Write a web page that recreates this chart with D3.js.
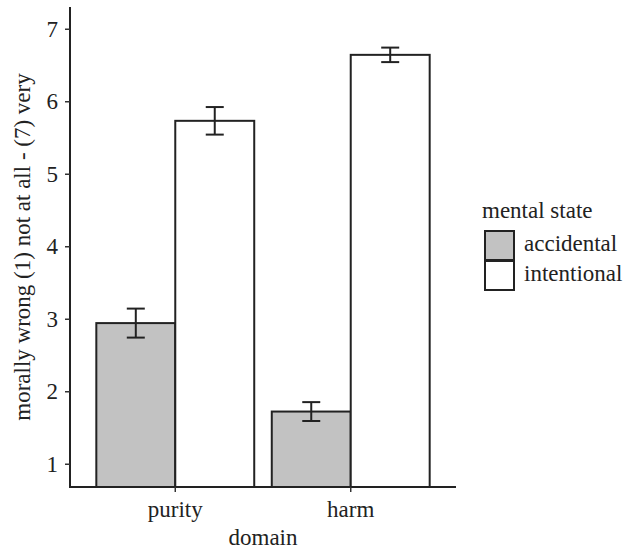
<!DOCTYPE html>
<html>
<head>
<meta charset="utf-8">
<script src="https://cdn.jsdelivr.net/npm/d3@7"></script>
<style>
  body { margin: 0; background: #fff; }
  text { font-family: "Liberation Serif", "DejaVu Serif", serif; fill: #222; }
</style>
</head>
<body>
<script>
// data
var domains = ["purity", "harm"];
var states = ["accidental", "intentional"];
var accidentalMean = [2.94, 1.72];
var accidentalSe = [0.20, 0.13];
var intentionalMean = [5.73, 6.64];
var intentionalSe = [0.19, 0.10];
var yTicks = [1, 2, 3, 4, 5, 6, 7];
var stateColors = ["#c2c2c2", "#ffffff"];

var width = 627, height = 551;
var mLeft = 70, mRight = 456, mBottom = 487, mTop = 7;
var fontSize = "23px";

// rows for the bars
var rows = [];
domains.forEach(function(d, i) {
  rows.push({ domain: d, state: states[0], mean: accidentalMean[i], se: accidentalSe[i] });
  rows.push({ domain: d, state: states[1], mean: intentionalMean[i], se: intentionalSe[i] });
});

var svg = d3.select("body").append("svg")
  .attr("width", width)
  .attr("height", height);

// scales
var x = d3.scaleBand()
  .domain(domains)
  .range([mLeft, mRight])
  .paddingInner(0.1)
  .paddingOuter(0.15);
var xs = d3.scaleBand()
  .domain(states)
  .range([0, x.bandwidth()]);
var y = d3.scaleLinear()
  .domain([0.7, 7.3])
  .range([mBottom - 1.5, mTop]);
var color = d3.scaleOrdinal().domain(states).range(stateColors);

function cx(d) { return x(d.domain) + xs(d.state) + xs.bandwidth() / 2; }

// bars (down to the axis line)
svg.selectAll("rect.bar")
  .data(rows)
  .enter()
  .append("rect")
  .attr("class", "bar")
  .attr("x", function(d) { return x(d.domain) + xs(d.state); })
  .attr("width", xs.bandwidth())
  .attr("y", function(d) { return y(d.mean); })
  .attr("height", function(d) { return mBottom - y(d.mean); })
  .attr("fill", function(d) { return color(d.state); })
  .attr("stroke", "#222")
  .attr("stroke-width", 2);

// error bars
var capHalf = 9;
var err = svg.selectAll("g.err")
  .data(rows)
  .enter()
  .append("g")
  .attr("class", "err")
  .attr("stroke", "#222")
  .attr("stroke-width", 2);
err.append("line")
  .attr("x1", cx)
  .attr("x2", cx)
  .attr("y1", function(d) { return y(d.mean + d.se); })
  .attr("y2", function(d) { return y(d.mean - d.se); });
[1, -1].forEach(function(s) {
  err.append("line")
    .attr("x1", function(d) { return cx(d) - capHalf; })
    .attr("x2", function(d) { return cx(d) + capHalf; })
    .attr("y1", function(d) { return y(d.mean + s * d.se); })
    .attr("y2", function(d) { return y(d.mean + s * d.se); });
});

// axes
var yAxis = svg.append("g")
  .attr("transform", "translate(" + mLeft + ",0)")
  .call(d3.axisLeft(y).tickValues(yTicks).tickSize(5).tickPadding(7).tickFormat(d3.format("d")));
var xAxis = svg.append("g")
  .attr("transform", "translate(0," + mBottom + ")")
  .call(d3.axisBottom(x).tickSize(5).tickPadding(9));
[yAxis, xAxis].forEach(function(a) {
  a.select(".domain").attr("stroke", "#222").attr("stroke-width", 2);
  a.selectAll(".tick line").attr("stroke", "#333").attr("stroke-width", 1.5);
  a.selectAll(".tick text")
    .style("font-family", "'Liberation Serif', serif")
    .style("font-size", fontSize)
    .attr("fill", "#222");
});
// ggplot-style axis lines without end ticks
yAxis.select(".domain").attr("d", "M0," + y(7.3) + "V" + mBottom);
xAxis.select(".domain").attr("d", "M" + (mLeft - 1) + ",0H" + mRight);

// axis titles
svg.append("text")
  .attr("x", (mLeft + mRight) / 2)
  .attr("y", 545)
  .attr("text-anchor", "middle")
  .style("font-size", fontSize)
  .text("domain");
svg.append("text")
  .attr("transform", "translate(30," + ((mTop + mBottom) / 2) + ") rotate(-90)")
  .attr("text-anchor", "middle")
  .style("font-size", fontSize)
  .text("morally wrong (1) not at all - (7) very");

// legend
var legend = svg.append("g").attr("transform", "translate(482,218)");
legend.append("text")
  .attr("x", 0)
  .attr("y", 0)
  .style("font-size", fontSize)
  .text("mental state");
var item = legend.selectAll("g.item")
  .data(states)
  .enter()
  .append("g")
  .attr("class", "item")
  .attr("transform", function(d, i) { return "translate(3," + (13 + i * 30) + ")"; });
item.append("rect")
  .attr("width", 29)
  .attr("height", 29)
  .attr("fill", function(d) { return color(d); })
  .attr("stroke", "#222")
  .attr("stroke-width", 2);
item.append("text")
  .attr("x", 39)
  .attr("y", 20)
  .style("font-size", fontSize)
  .text(function(d) { return d; });
</script>
</body>
</html>
